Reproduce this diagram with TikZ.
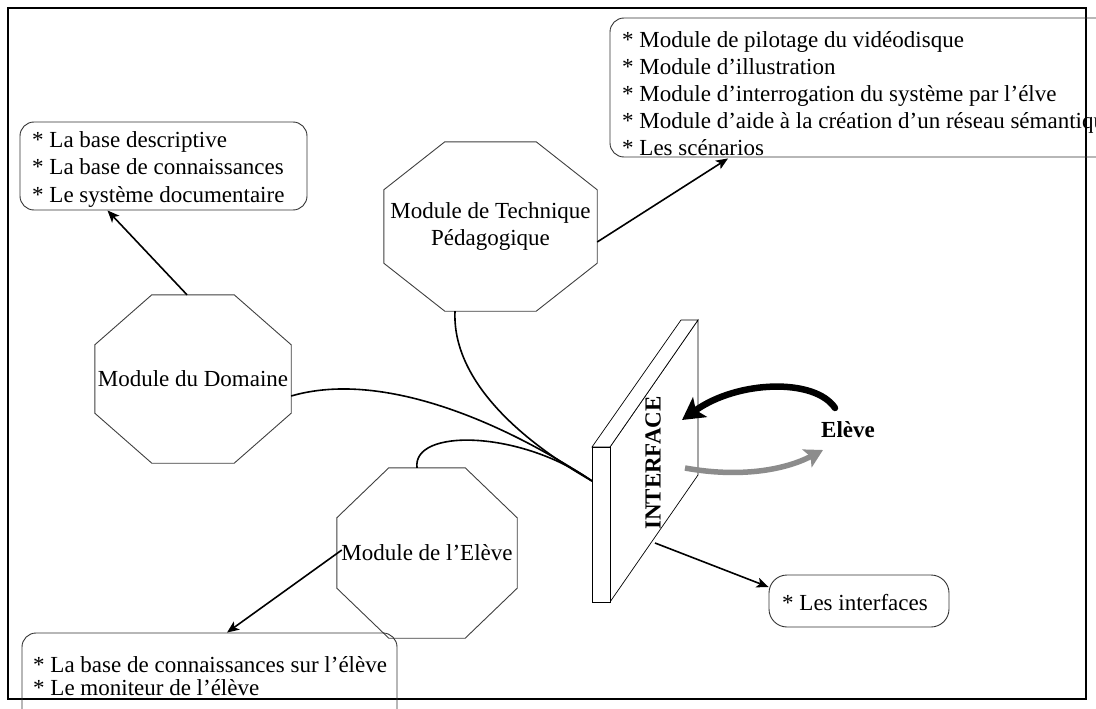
\documentclass[tikz,border=0pt]{standalone}
\usepackage{fontspec}
\setmainfont{Liberation Serif}
\usetikzlibrary{arrows.meta,calc}
\tikzset{
  frameline/.style={draw=black, line width=1.4pt},
  octnode/.style={inner sep=0pt, align=center, font=\fontsize{23}{27}\selectfont},
  octline/.style={draw=black!75, line width=0.9pt},
  boxshape/.style={draw=black!80, line width=0.9pt, rounded corners=14pt, inner sep=0pt},
  listtext/.style={inner sep=0pt, anchor=north west, align=left, font=\fontsize{23}{27.5}\selectfont},
  conn/.style={draw=black, line width=1.6pt},
  arr/.style={draw=black, line width=1.6pt, -{Stealth[length=12pt,width=10pt,inset=3pt]}},
  slab/.style={draw=black, line width=0.7pt, fill=white},
}
\newcommand\octagon[3]{%
  \draw[octline] ($(#1.north west)+(#2,0)$) -- ($(#1.north east)+(-#2,0)$)
    -- ($(#1.north east)+(0,#3)$) -- ($(#1.south east)+(0,-#3)$)
    -- ($(#1.south east)+(-#2,0)$) -- ($(#1.south west)+(#2,0)$)
    -- ($(#1.south west)+(0,-#3)$) -- ($(#1.north west)+(0,#3)$) -- cycle;}
\begin{document}
\begin{tikzpicture}[x=1pt,y=-1pt]
\useasboundingbox (0,0) rectangle (1096,709);
\clip (0,0) rectangle (1096,709);
\fill[white] (0,0) rectangle (1096,709);

% frame
\draw[frameline] (8,8) rectangle (1086,699);

% module octagons
\node[octnode, minimum width=196pt, minimum height=168pt] (dom) at (193,379) {Module du Domaine};
\octagon{dom}{57}{50}
\node[octnode, minimum width=213pt, minimum height=169pt] (tech) at (490.5,226.5) {Module de Technique\\Pédagogique};
\octagon{tech}{61}{48}
\node[octnode, minimum width=180pt, minimum height=170pt] (elv) at (427,553) {Module de l’Elève};
\octagon{elv}{52}{50}

% rounded boxes
\node[boxshape, minimum width=287pt, minimum height=88pt] (b1) at (163.5,166) {};
\node[listtext] (t1) at (32,131.3) {* La base descriptive\\* La base de connaissances\\* Le système documentaire};
\node[boxshape, minimum width=520pt, minimum height=139pt] (b2) at (870,87.5) {};
\node[listtext, font=\fontsize{23}{27}\selectfont] (t2) at (622,31.3) {* Module de pilotage du vidéodisque\\* Module d’illustration\\* Module d’interrogation du système par l’élve\\* Module d’aide à la création d’un réseau sémantique\\* Les scénarios};
\node[boxshape, minimum width=375pt, minimum height=92pt] (b3) at (209.5,679) {};
\node[listtext, font=\fontsize{23}{23.5}\selectfont] (t3) at (33,656.3) {* La base de connaissances sur l’élève\\* Le moniteur de l’élève};
\node[boxshape, minimum width=180pt, minimum height=52pt, rounded corners=18pt] (b4) at (859,601) {};
\node[listtext] (t4) at (782,594.3) {* Les interfaces};

% arrows to boxes
\draw[arr] ($(dom.north)+(-6,0)$) -- ($(b1.south)+(-56,0)$);
\draw[arr] ($(tech.east)+(0,15.5)$) -- ($(b2.south)+(-142,1)$);
\draw[arr] ($(elv.west)+(5,-3)$) -- ($(b3.north)+(17.5,0)$);

% curves to interface
\coordinate (iface) at (592,481);
\draw[conn] ($(tech.south)+(-35.5,0)$) .. controls (452,380) and (520,440) .. (iface);
\draw[conn] ($(dom.east)+(0,17)$) .. controls (380,370) and (500,420) .. (iface);
\draw[conn] ($(elv.north)+(-10,0)$) .. controls (412,428) and (520,430) .. (iface);

% interface slab
\draw[slab] (610,447) -- (698,320) -- (698,475) -- (610,602) -- cycle;
\draw[slab] (592,447) -- (681,320) -- (698,320) -- (610,447) -- cycle;
\node[slab, minimum width=18pt, minimum height=155pt, inner sep=0pt] (front) at (601,524.5) {};
\node[rotate=90, inner sep=0pt, font=\fontsize{23}{27}\selectfont\bfseries] (itext) at (653,463) {INTERFACE};

% arrow to interfaces box
\coordinate (istart) at (655,543);
\draw[arr] (istart) -- ($(b4.west)+(0,-14)$);

% student interaction arrows
\node[inner sep=0pt, font=\fontsize{23}{27}\selectfont\bfseries] (elvlabel) at (848,430) {Elève};
\coordinate (bstart) at (835,408);
\coordinate (btip) at (682,420);
\draw[line width=6.5pt, line cap=round, -{Stealth[length=22pt,width=24pt,inset=5pt]}] (bstart) .. controls (815,378) and (738,380) .. (btip);
\coordinate (gstart) at (685,468);
\coordinate (gtip) at (823,450);
\draw[black!45, line width=5.5pt, -{Stealth[length=18pt,width=20pt,inset=4pt]}] (gstart) .. controls (740,478) and (785,470) .. (gtip);
\end{tikzpicture}
\end{document}
